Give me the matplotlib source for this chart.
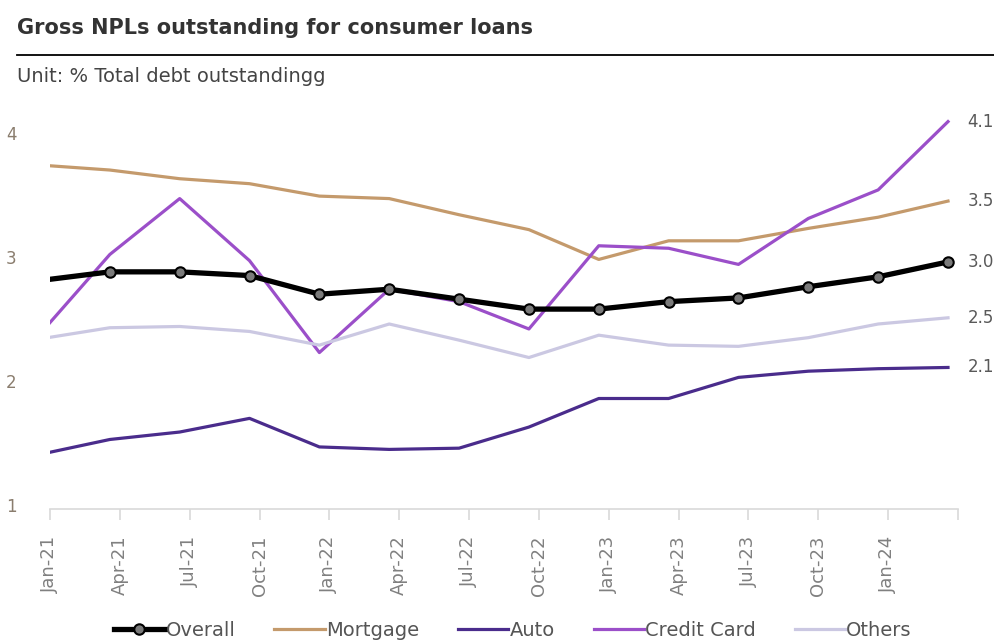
import matplotlib.pyplot as plt
import matplotlib.transforms as mtransforms
import numpy as np

# quarter-end observations, Dec-20 .. Mar-24
quarters = ["Dec-20", "Mar-21", "Jun-21", "Sep-21", "Dec-21", "Mar-22", "Jun-22",
            "Sep-22", "Dec-22", "Mar-23", "Jun-23", "Sep-23", "Dec-23", "Mar-24"]
overall = [2.84, 2.91, 2.91, 2.88, 2.73, 2.77, 2.69, 2.61, 2.61, 2.67, 2.70, 2.79, 2.87, 2.99]
mortgage = [3.77, 3.73, 3.66, 3.62, 3.52, 3.50, 3.37, 3.25, 3.01, 3.16, 3.16, 3.26, 3.35, 3.48]
auto = [1.44, 1.56, 1.62, 1.73, 1.50, 1.48, 1.49, 1.66, 1.89, 1.89, 2.06, 2.11, 2.13, 2.14]
credit_card = [2.41, 3.05, 3.50, 3.00, 2.26, 2.77, 2.67, 2.45, 3.12, 3.10, 2.97, 3.34, 3.57, 4.12]
others = [2.37, 2.46, 2.47, 2.43, 2.32, 2.49, 2.36, 2.22, 2.40, 2.32, 2.31, 2.38, 2.49, 2.54]

tick_labels = ["Jan-21", "Apr-21", "Jul-21", "Oct-21", "Jan-22", "Apr-22", "Jul-22",
               "Oct-22", "Jan-23", "Apr-23", "Jul-23", "Oct-23", "Jan-24"]

plt.rcParams['font.family'] = ['DejaVu Sans']

# x in months since Jan-21; points sit a bit before the quarter tick
x = np.arange(len(quarters)) * 3 - 0.43

fig = plt.figure(figsize=(9.94, 6.44), dpi=100)
ax = fig.add_axes([0.0503, 0.2096, 0.9135, 0.617])

ax.plot(x, mortgage, color='#c49a6c', lw=2.3, label='Mortgage', zorder=2)
ax.plot(x, auto, color='#4a2c8c', lw=2.3, label='Auto', zorder=2)
ax.plot(x, credit_card, color='#9b4fc9', lw=2.3, label='Credit Card', zorder=2)
ax.plot(x, others, color='#cbc8e2', lw=2.3, label='Others', zorder=2)
ax.plot(x, overall, color='black', lw=3.8, marker='o', ms=7.5,
        mfc='#7a7a7a', mec='black', mew=1.5, label='Overall', zorder=3)

# end value labels
for s in [overall, mortgage, auto, credit_card, others]:
    ax.annotate(f"{s[-1]:.1f}", (x[-1], s[-1]), xytext=(14, 0), textcoords='offset points',
                ha='left', va='center', fontsize=12, color='#595959', annotation_clip=False)

ax.set_xlim(0, 39)
ax.set_ylim(1, 4.2)
ax.set_xticks(np.arange(0, 40, 3))
ax.set_xticklabels(tick_labels + [""], rotation=90, fontsize=13, color='#808080')
ax.set_yticks([1, 2, 3, 4])
ax.set_yticklabels(['1', '2', '3', '4'], fontsize=12, color='#8a7d6e')
ax.tick_params(axis='y', length=0, pad=24)
ax.tick_params(axis='x', length=8, color='#d9d9d9', width=1.2, pad=11)
shift = mtransforms.ScaledTranslation(0, 4 / 100, fig.dpi_scale_trans)
for lab in ax.get_yticklabels():
    lab.set_transform(lab.get_transform() + shift)
for side in ['top', 'right', 'left']:
    ax.spines[side].set_visible(False)
ax.spines['bottom'].set_color('#d9d9d9')
ax.spines['bottom'].set_linewidth(1.2)

fig.text(0.017, 0.957, "Gross NPLs outstanding for consumer loans", fontsize=15,
         fontweight='bold', color='#333333', va='center', ha='left')
fig.add_artist(plt.Line2D([0.017, 1.0], [0.915, 0.915], color='black', lw=1.3))
fig.text(0.017, 0.881, "Unit: % Total debt outstandingg", fontsize=14,
         color='#444444', va='center', ha='left')

h, l = ax.get_legend_handles_labels()
order = [4, 0, 1, 2, 3]
fig.legend([h[i] for i in order], [l[i] for i in order], loc='center',
           bbox_to_anchor=(0.516, 0.021), ncol=5, frameon=False, fontsize=14,
           handlelength=2.6, handletextpad=0.05, columnspacing=2.0,
           labelcolor='#555555', borderpad=0.1)

fig.savefig('out.png', dpi=100)
